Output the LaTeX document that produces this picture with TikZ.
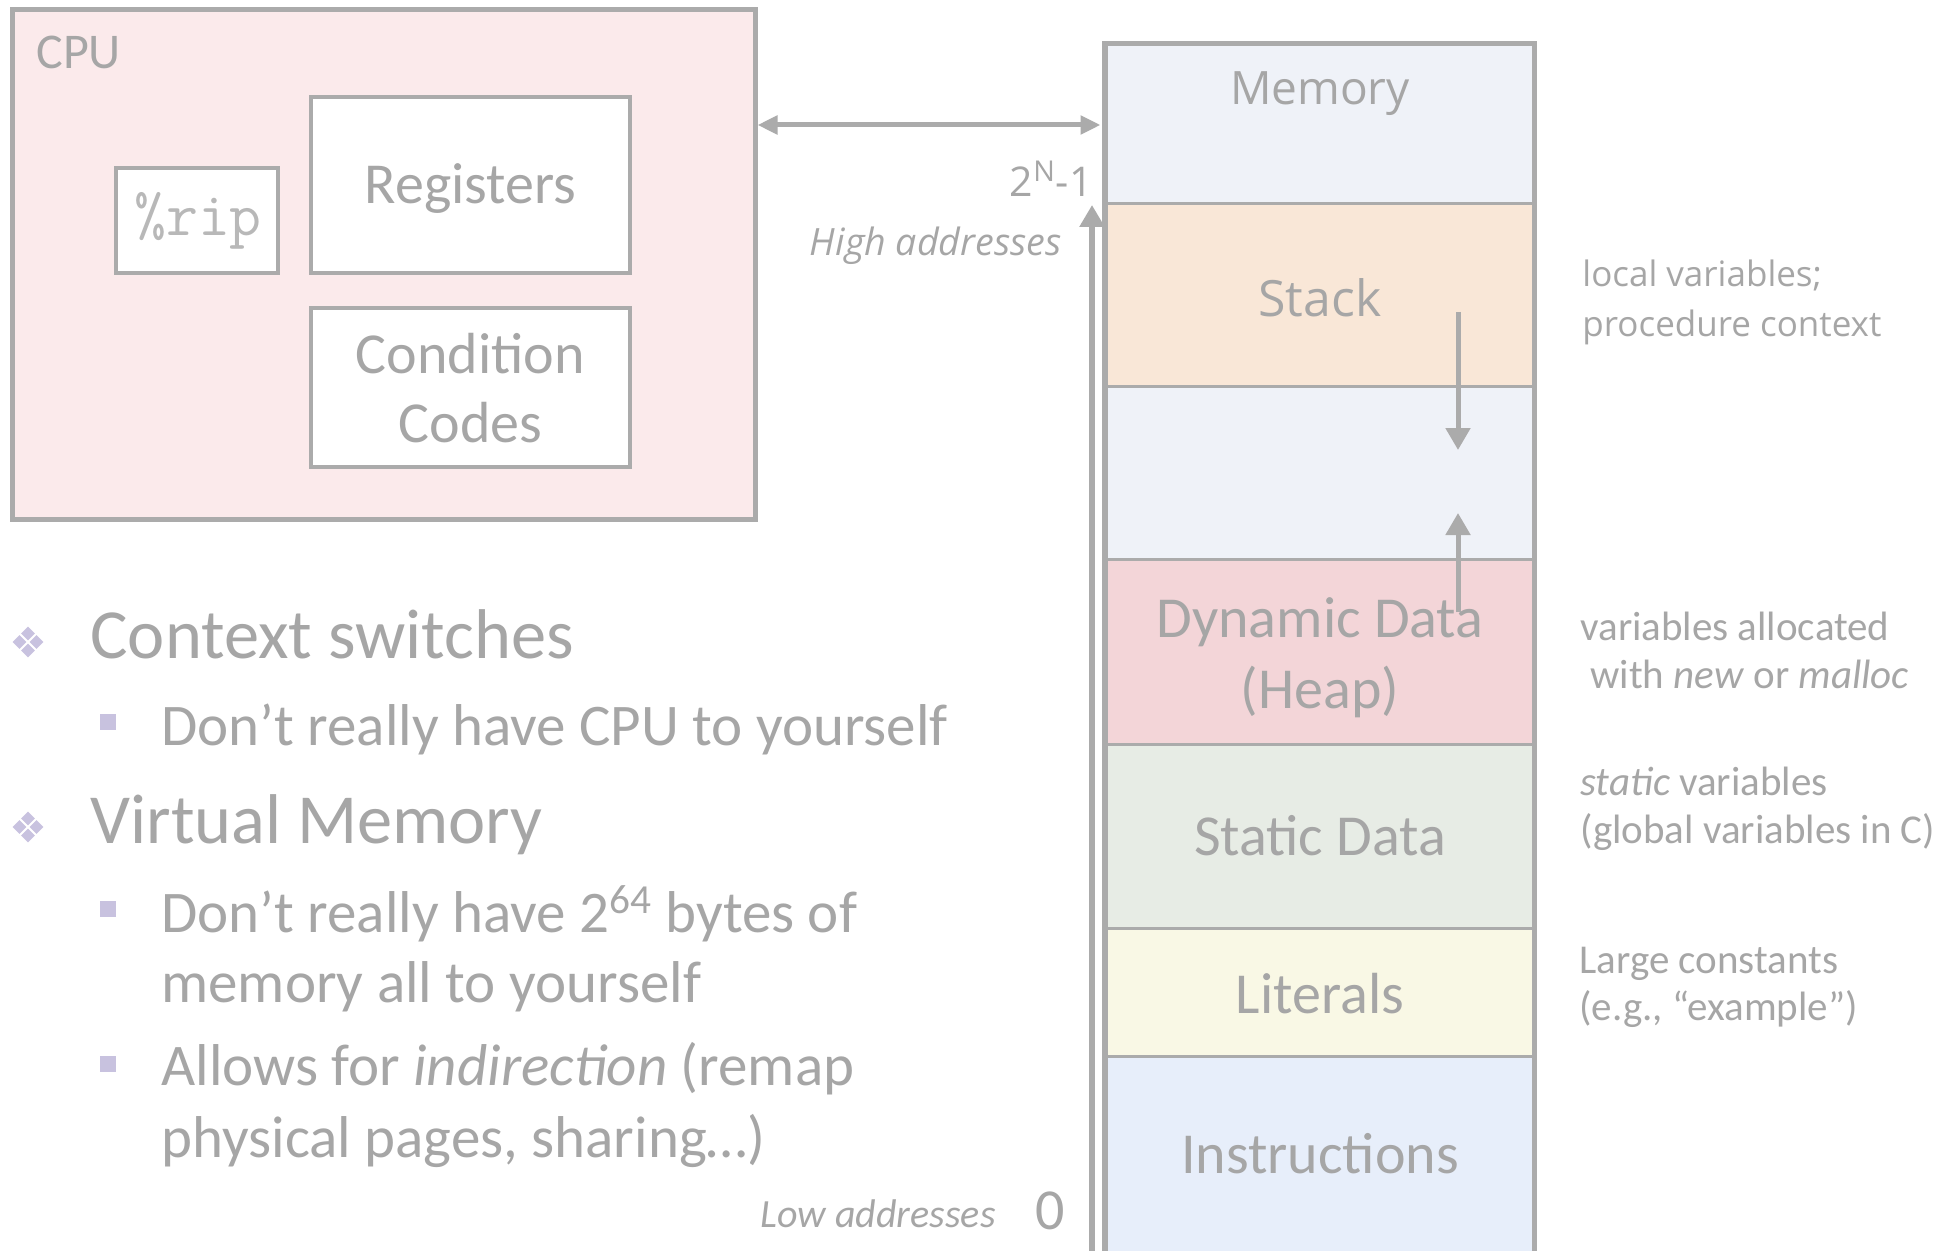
\documentclass[tikz,border=0pt]{standalone}
\usepackage{fontspec}
\setmainfont{Carlito}
\newfontfamily\osans{Open Sans}
\usetikzlibrary{arrows.meta,shapes.geometric}
\definecolor{txt}{HTML}{A6A6A6}
\definecolor{ln}{HTML}{ABABAB}
\definecolor{cpufill}{HTML}{FBEAEB}
\definecolor{memfill}{HTML}{EFF2F8}
\definecolor{stackfill}{HTML}{F9E7D7}
\definecolor{heapfill}{HTML}{F3D5D8}
\definecolor{staticfill}{HTML}{E7ECE5}
\definecolor{litfill}{HTML}{F9F8E5}
\definecolor{instrfill}{HTML}{E7EEFA}
\definecolor{bul}{HTML}{C8C2DF}
\tikzset{
  box/.style={draw=ln, line width=2pt, fill=white, inner sep=0pt, rectangle},
  seg/.style={draw=ln, line width=1.5pt, inner sep=0pt, rectangle, minimum width=213.5pt},
  lbl/.style={text=txt, inner sep=0pt},
  conn/.style={draw=ln, line width=2.5pt},
  tip/.style={-{Triangle[length=11pt,width=12pt]}},
  dtip/.style={{Triangle[length=10pt,width=9pt]}-{Triangle[length=10pt,width=9pt]}},
  sq/.style={fill=bul, draw=none, minimum size=8pt, inner sep=0pt, rectangle},
  dm/.style={fill=bul, draw=none, inner sep=0pt, diamond, minimum width=7pt, minimum height=7pt},
  big/.style={font=\fontsize{29}{35}\selectfont},
  lone/.style={font=\fontsize{35.2}{42}\selectfont},
  ltwo/.style={font=\fontsize{29.5}{35}\selectfont},
  note/.style={font=\fontsize{20.5}{25}\selectfont},
}
\begin{document}
\begin{tikzpicture}[x=0.5pt,y=-0.5pt]
\path[use as bounding box] (0,0) rectangle (1953,1251);
\clip (0,0) rectangle (1953,1251);
\fill[white] (0,0) rectangle (1953,1251);

% CPU
\node[draw=ln, line width=2.5pt, fill=cpufill, inner sep=0pt, minimum width=371.5pt, minimum height=254.5pt] (cpu) at (383.5,264.5) {};
\node[lbl, anchor=base west, font=\fontsize{25}{30}\selectfont] (cpulbl) at (36,69) {CPU};
\node[box, minimum width=81pt, minimum height=52.5pt] (rip) at (197,220.5) {};
\node[lbl, anchor=base, text=txt!80, font=\ttfamily\fontsize{31}{34}\selectfont] (riplbl) at (198,236) {\%rip};
\node[box, minimum width=159.5pt, minimum height=88pt] (regs) at (470.5,185) {};
\node[lbl, anchor=base, big] (regslbl) at (470.5,204) {Registers};
\node[box, minimum width=159.5pt, minimum height=79.5pt] (cc) at (470.5,387.5) {};
\node[lbl, anchor=base, big] (cclbl1) at (470.5,373) {Condition};
\node[lbl, anchor=base, big] (cclbl2) at (470.5,443) {Codes};

% Memory
\node[seg, fill=memfill, minimum height=79.5pt] (memtop) at (1319.5,124.5) {};
\node[seg, fill=stackfill, minimum height=91.5pt] (stack) at (1319.5,295.5) {};
\node[seg, fill=memfill, minimum height=86pt] (gap) at (1319.5,473) {};
\node[seg, fill=heapfill, minimum height=92.5pt] (heap) at (1319.5,651.5) {};
\node[seg, fill=staticfill, minimum height=92pt] (static) at (1319.5,836) {};
\node[seg, fill=litfill, minimum height=64pt] (lit) at (1319.5,992) {};
\node[seg, fill=instrfill, minimum height=103pt] (instr) at (1319.5,1159) {};
\draw[ln, line width=2.5pt] (instr.south west) -- (memtop.north west) -- (memtop.north east) -- (instr.south east);

\node[lbl, anchor=base, font=\osans\fontsize{23}{28}\selectfont] (memlbl) at (1320,105) {Memory};
\node[lbl, anchor=base, font=\osans\fontsize{25}{30}\selectfont] (stacklbl) at (1320,317) {Stack};
\node[lbl, anchor=base, big] (heaplbl1) at (1320,637) {Dynamic Data};
\node[lbl, anchor=base, big] (heaplbl2) at (1320,708) {(Heap)};
\node[lbl, anchor=base, big] (staticlbl) at (1320,855) {Static Data};
\node[lbl, anchor=base, big] (litlbl) at (1320,1013) {Literals};
\node[lbl, anchor=base, big] (instrlbl) at (1320,1173) {Instructions};

% growth arrows
\coordinate (sa1) at (1458,312);
\coordinate (sa2) at (1458,450);
\coordinate (ha1) at (1458,612);
\coordinate (ha2) at (1458,513);
\draw[conn, tip] (sa1) -- (sa2);
\draw[conn, tip] (ha1) -- (ha2);

% bus arrow
\coordinate (bus) at (900,125);
\draw[conn, dtip, shorten >=2pt] (cpu.east |- bus) -- (memtop.west |- bus);

% address axis
\coordinate (axbot) at (1092,1262);
\coordinate (axtop) at (1092,205);
\draw[conn, line width=3pt, tip] (axbot) -- (axtop);
\node[lbl, anchor=base east, font=\osans\fontsize{20.5}{25}\selectfont] (hiaddr) at (1093,197) {2\textsuperscript{N}-1};
\node[lbl, anchor=base east, font=\osans\itshape\fontsize{18.8}{22}\selectfont] (hilbl) at (1062,256) {High addresses};
\node[lbl, anchor=base east, font=\itshape\fontsize{20}{24}\selectfont] (lolbl) at (996,1227) {Low addresses};
\node[lbl, anchor=base, font=\fontsize{29}{32}\selectfont] (loaddr) at (1050,1229) {0};

% annotations
\node[lbl, anchor=base west, font=\osans\fontsize{17.5}{22}\selectfont] (n1a) at (1582,287) {local variables;};
\node[lbl, anchor=base west, font=\osans\fontsize{17.5}{22}\selectfont] (n1b) at (1582,337) {procedure context};
\node[lbl, anchor=base west, note] (n2a) at (1580,640) {variables allocated};
\node[lbl, anchor=base west, note] (n2b) at (1590,688) {with \textit{new} or \textit{malloc}};
\node[lbl, anchor=base west, note] (n3a) at (1580,795) {\textit{static} variables};
\node[lbl, anchor=base west, note] (n3b) at (1580,843) {(global variables in C)};
\node[lbl, anchor=base west, note] (n4a) at (1579,973) {Large constants};
\node[lbl, anchor=base west, note] (n4b) at (1579,1020) {(e.g., “example”)};

% bullets
\foreach \yy/\nm in {642/da,827/db}{
  \node[dm] (\nm1) at (28,\yy-8.5) {};
  \node[dm] (\nm2) at (28,\yy+8.5) {};
  \node[dm] (\nm3) at (19.5,\yy) {};
  \node[dm] (\nm4) at (36.5,\yy) {};
}
\node[lbl, anchor=base west, lone] (b1) at (90,658) {Context switches};
\node[sq] (s1) at (108,722) {};
\node[lbl, anchor=base west, ltwo] (b1a) at (161,745) {Don’t really have CPU to yourself};
\node[lbl, anchor=base west, lone] (b2) at (90,843) {Virtual Memory};
\node[sq] (s2) at (108,909) {};
\node[lbl, anchor=base west, ltwo] (b2a) at (161,932) {Don’t really have 2\textsuperscript{64} bytes of};
\node[lbl, anchor=base west, ltwo] (b2b) at (161,1002) {memory all to yourself};
\node[sq] (s3) at (108,1064) {};
\node[lbl, anchor=base west, ltwo] (b2c) at (161,1085) {Allows for \textit{indirection} (remap};
\node[lbl, anchor=base west, ltwo] (b2d) at (161,1157) {physical pages, sharing…)};
\end{tikzpicture}
\end{document}
